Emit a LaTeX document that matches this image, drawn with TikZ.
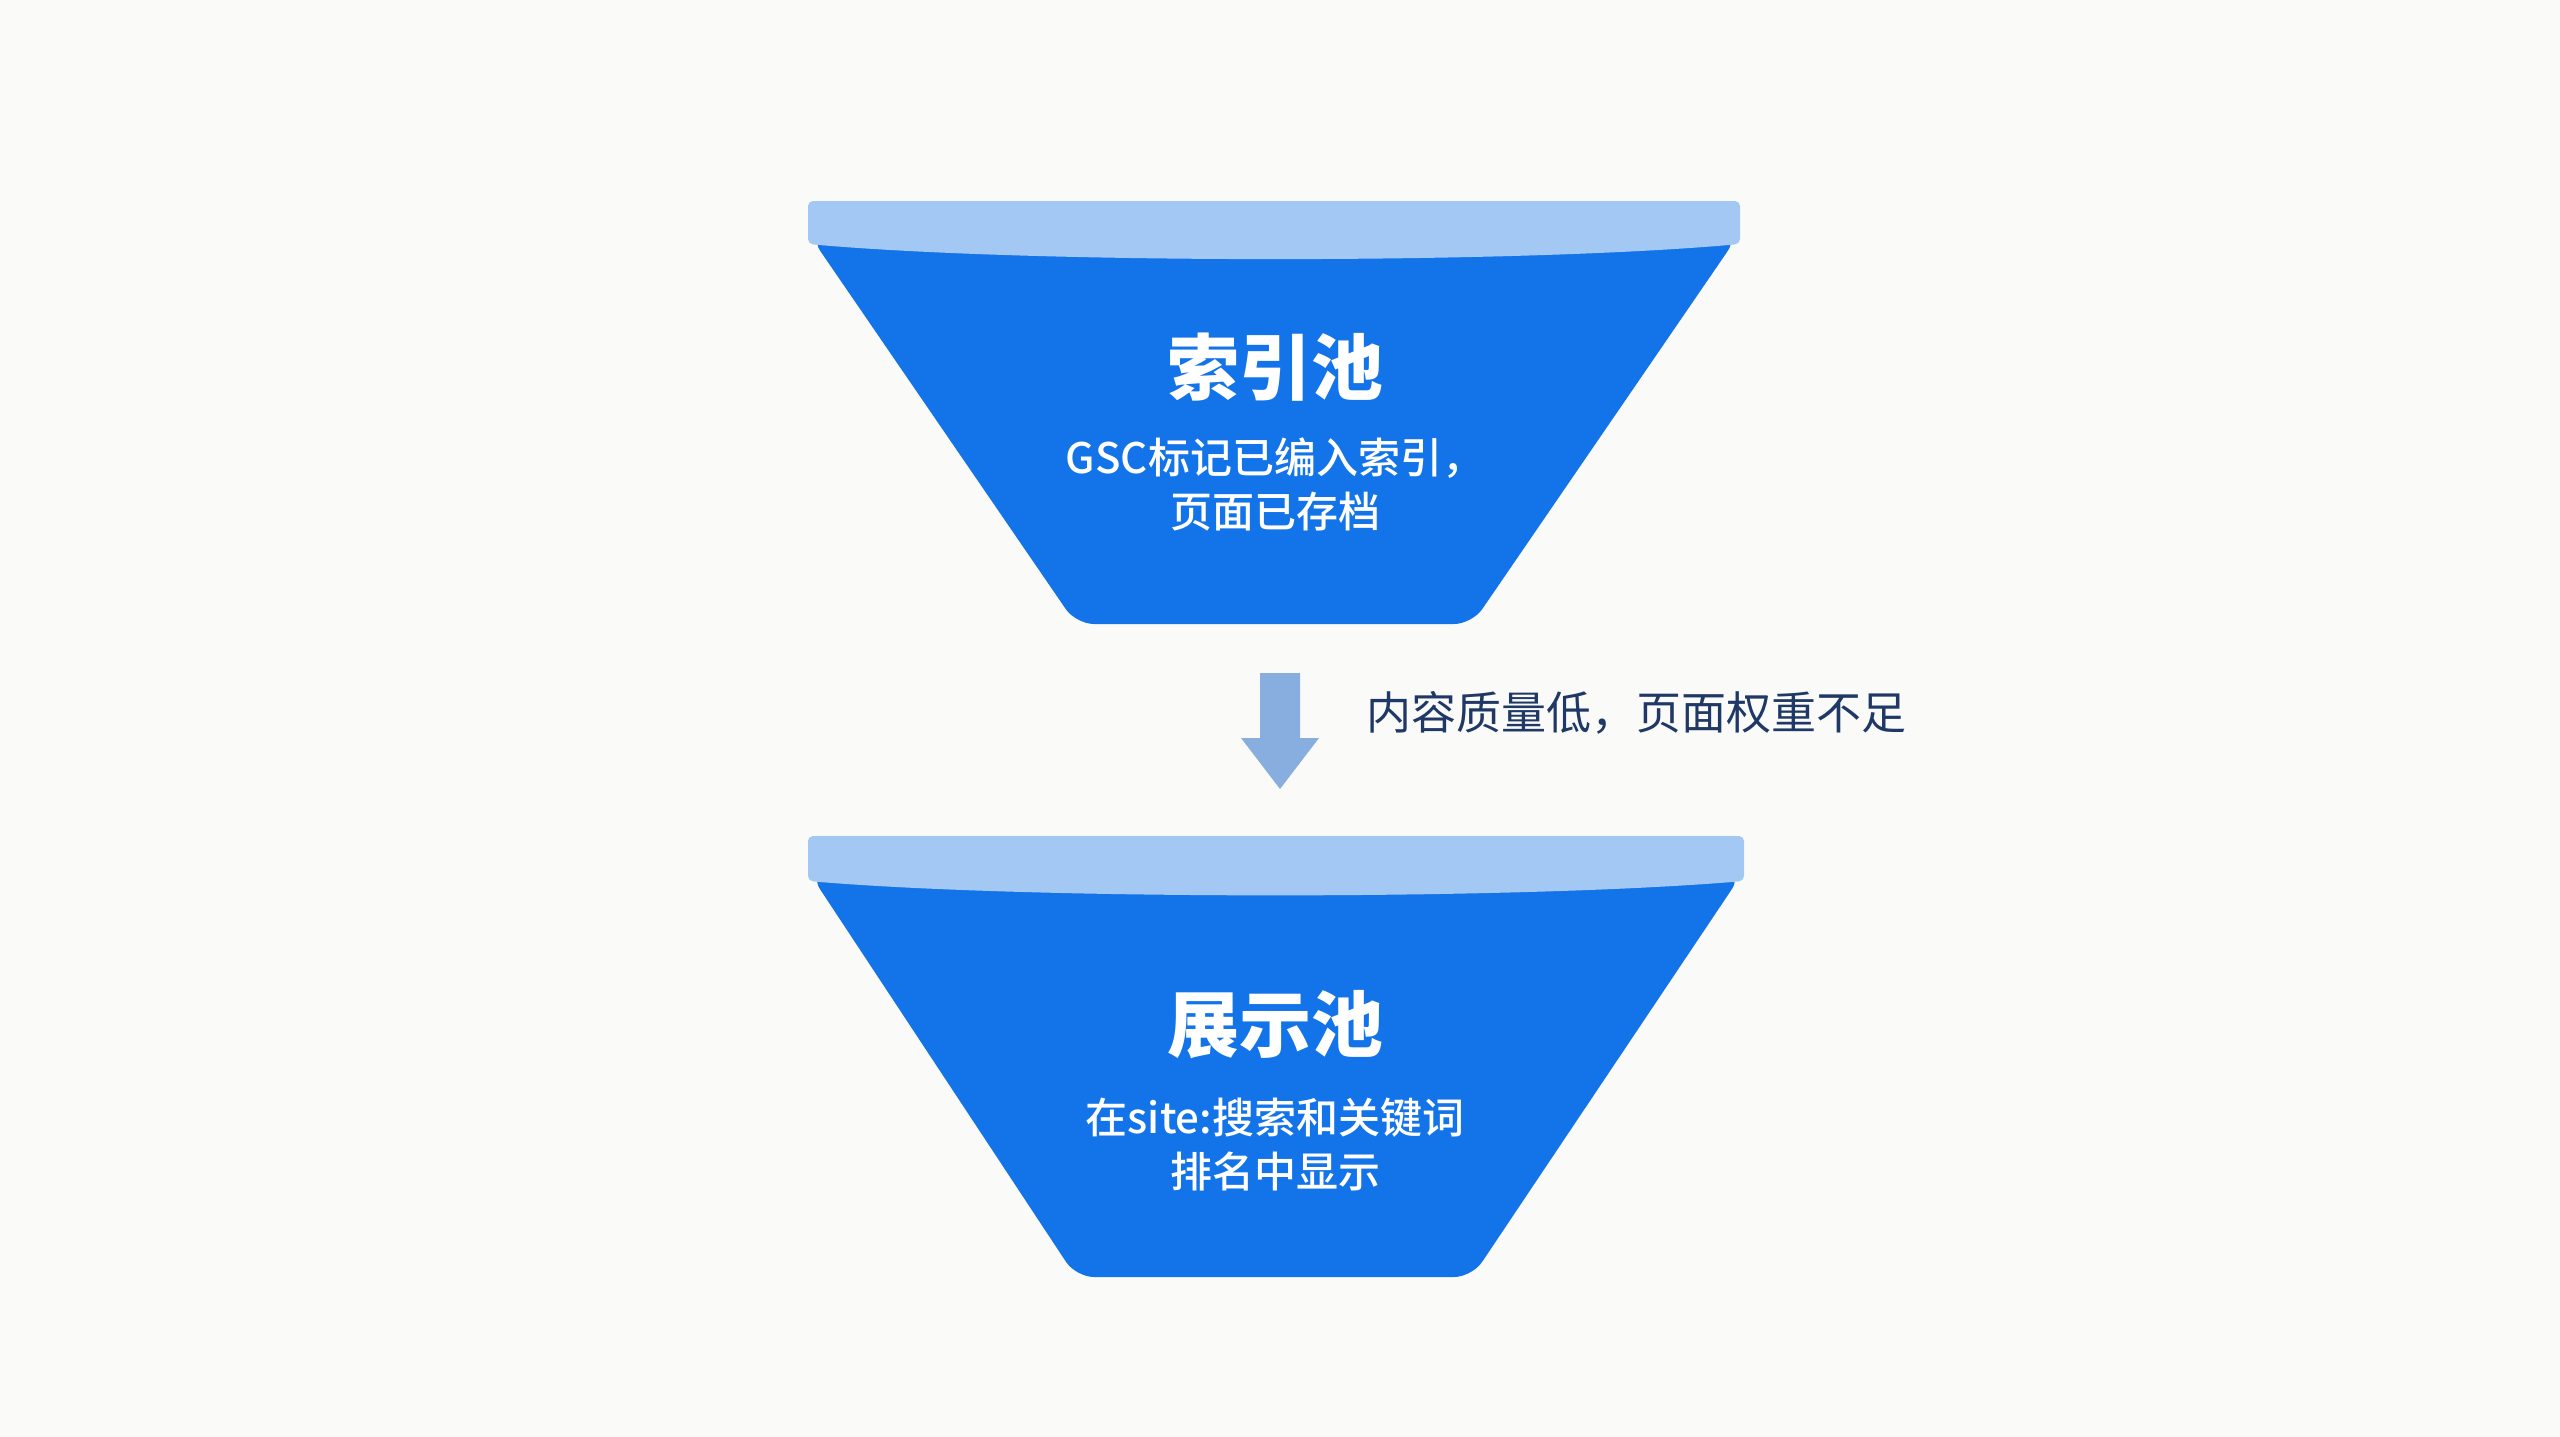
\documentclass[tikz,border=0pt]{standalone}
\usepackage{fontspec}
\newfontfamily\cjk{Noto Sans CJK SC}
\newfontfamily\cjkmed{Noto Sans CJK SC Medium}
\definecolor{bgc}{HTML}{FAFBF8}
\definecolor{bodyc}{HTML}{1374EA}
\definecolor{rimc}{HTML}{A3C8F4}
\definecolor{arrowc}{HTML}{88AEE0}
\definecolor{navy}{HTML}{1F3866}
\tikzset{
  funnelbody/.style={fill=bodyc, rounded corners=18pt},
  funnelrim/.style={fill=rimc, rounded corners=5pt},
  titletext/.style={text=white, font=\cjk\bfseries\fontsize{72}{80}\selectfont, inner sep=0pt},
  subtext/.style={text=white, font=\cjkmed\fontsize{42}{54}\selectfont, align=center, inner sep=0pt},
  steplabel/.style={text=navy, font=\cjk\fontsize{45}{50}\selectfont, inner sep=0pt, anchor=west},
  arrowfill/.style={fill=arrowc}
}
\begin{document}
\begin{tikzpicture}[x=1pt,y=-1pt]
\fill[bgc] (0,0) rectangle (2560,1437);
\useasboundingbox (0,0) rectangle (2560,1437);

% top funnel
\fill[funnelbody] (810,236) -- (1076,624) -- (1472,624) -- (1738,236) -- cycle;
\fill[funnelrim] (808,201) -- (1740,201) -- (1740,244)
  .. controls (1520,264) and (1030,264) .. (808,244) -- cycle;
\node[titletext] (t1) at (1275,367) {索引池};
\node[subtext] (s1) at (1275,484) {GSC标记已编入索引，\\页面已存档};

% arrow and label
\coordinate (arrtop) at (1280,673);
\coordinate (arrtip) at (1280,789);
\fill[arrowfill] ([xshift=-20pt]arrtop) -- ([xshift=20pt]arrtop)
  -- ([xshift=20pt,yshift=51pt]arrtip) -- ([xshift=39pt,yshift=51pt]arrtip)
  -- (arrtip) -- ([xshift=-39pt,yshift=51pt]arrtip)
  -- ([xshift=-20pt,yshift=51pt]arrtip) -- cycle;
\node[steplabel] (lab) at (1366,713) {内容质量低，页面权重不足};

% bottom funnel
\fill[funnelbody] (810,874) -- (1076,1277) -- (1472,1277) -- (1742,874) -- cycle;
\fill[funnelrim] (808,836) -- (1744,836) -- (1744,881)
  .. controls (1520,900) and (1030,900) .. (808,881) -- cycle;
\node[titletext] (t2) at (1275,1025) {展示池};
\node[subtext] (s2) at (1275,1144) {在site:搜索和关键词\\排名中显示};
\end{tikzpicture}
\end{document}
